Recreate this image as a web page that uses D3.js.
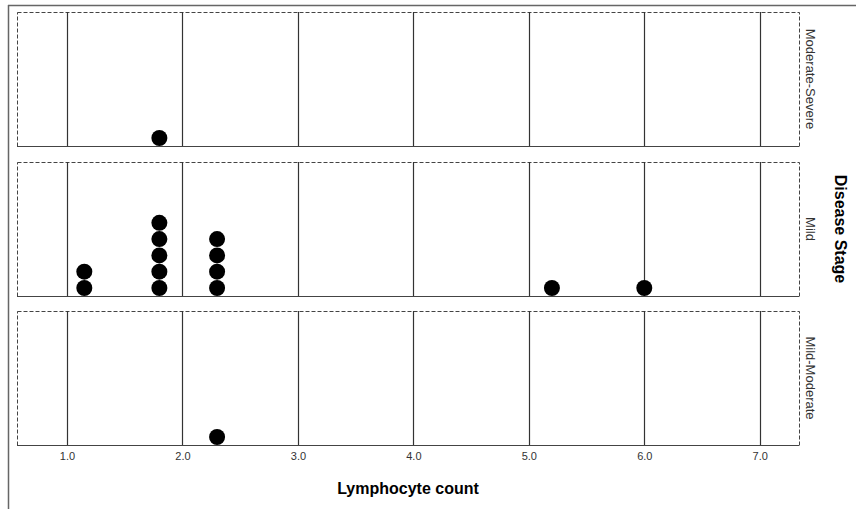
<!DOCTYPE html>
<html><head><meta charset="utf-8">
<script src="https://cdn.jsdelivr.net/npm/d3@7"></script>
<style>body{margin:0;background:#fff}svg{display:block}text{font-family:"Liberation Sans",Arial,sans-serif}</style>
</head><body><svg id="c" width="856" height="509"></svg>
<script>
const stages = ["Moderate-Severe", "Mild", "Mild-Moderate"];
const tickValues = [1.0, 2.0, 3.0, 4.0, 5.0, 6.0, 7.0];
// [lymphocyte value, count] per stage
const modSevere = [[1.8, 1]];
const mild = [[1.15, 2], [1.8, 5], [2.3, 4], [5.2, 1], [6.0, 1]];
const mildModerate = [[2.3, 1]];
const seriesByStage = [modSevere, mild, mildModerate];

const svg = d3.select("#c");
const left = 17, right = 799;
const x = d3.scaleLinear().domain([0.567, 7.34]).range([left, right]);
const panelTop = [12, 162, 311], panelH = 134;
const r = 8, step = 16.3;

// outer frame
svg.append("line").attr("x1", 8.5).attr("x2", 8.5).attr("y1", 5).attr("y2", 509).attr("stroke", "#666").attr("stroke-width", 1.5);
svg.append("line").attr("x1", 8).attr("x2", 856).attr("y1", 5.5).attr("y2", 5.5).attr("stroke", "#666").attr("stroke-width", 1.5);

stages.forEach((s, i) => {
  const t = panelTop[i], b = t + panelH;
  const g = svg.append("g");
  g.append("rect").attr("x", left + 0.5).attr("y", t + 0.5).attr("width", right - left).attr("height", panelH)
    .attr("fill", "none").attr("stroke", "#444").attr("stroke-dasharray", "4,2");
  g.append("line").attr("x1", left).attr("x2", right).attr("y1", b + 0.5).attr("y2", b + 0.5)
    .attr("stroke", "#444").attr("stroke-dasharray", "5,1");
  g.selectAll("line.grid").data(tickValues).join("line").attr("class", "grid")
    .attr("x1", d => Math.round(x(d)) + 0.5).attr("x2", d => Math.round(x(d)) + 0.5)
    .attr("y1", t).attr("y2", b).attr("stroke", "#333").attr("stroke-width", 1.2);
  const pts = [];
  seriesByStage[i].forEach(([v, n]) => { for (let k = 0; k < n; k++) pts.push({v, k}); });
  g.selectAll("circle").data(pts).join("circle")
    .attr("cx", d => x(d.v)).attr("cy", d => b - r - d.k * step).attr("r", r).attr("fill", "#000");
  g.append("text").attr("transform", `translate(806,${t + panelH / 2}) rotate(90)`)
    .attr("text-anchor", "middle").attr("font-size", 13).attr("fill", "#333").text(s);
});

const axis = d3.axisBottom(x).tickValues(tickValues).tickFormat(d3.format(".1f")).tickSize(0).tickPadding(7);
const ag = svg.append("g").attr("transform", `translate(0,${panelTop[2] + panelH})`).call(axis);
ag.select(".domain").remove();
ag.selectAll("text").attr("font-size", 11).attr("fill", "#333").attr("font-family", "Liberation Sans, Arial, sans-serif");

svg.append("text").attr("x", 408).attr("y", 494).attr("text-anchor", "middle").attr("font-size", 16)
  .attr("font-weight", "bold").attr("fill", "#000").text("Lymphocyte count");
svg.append("text").attr("transform", "translate(835,229) rotate(90)").attr("text-anchor", "middle")
  .attr("font-size", 16).attr("font-weight", "bold").attr("fill", "#000").text("Disease Stage");
</script></body></html>
